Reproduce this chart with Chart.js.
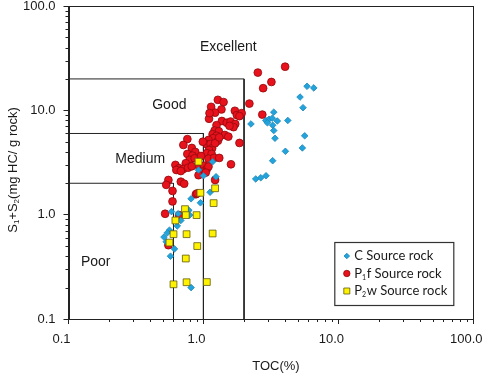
<!DOCTYPE html>
<html>
<head>
<meta charset="utf-8">
<script src="https://cdn.jsdelivr.net/npm/chart.js@4.4.1/dist/chart.umd.min.js"></script>
<style>
  html, body { margin: 0; padding: 0; background: #fff; }
  #wrap { width: 484px; height: 374px; }
</style>
</head>
<body>
<div id="wrap"><canvas id="chart"></canvas></div>
<script>
// tick labels
const xTicks = [0.1, 1, 10, 100];
const yTicks = [0.1, 1, 10, 100];

// boundaries of the source rock classes
const tocLimits = [0.6, 1.0, 2.0];
const s1s2Limits = [2, 6, 20];
const classNames = ["Poor", "Medium", "Good", "Excellent"];

// C source rock
const cToc = [5.86, 6.57, 5.20, 5.47, 3.32, 4.22, 2.25, 2.90, 3.06, 3.24, 3.53, 2.98, 3.26, 3.32,
  3.39, 5.63, 5.41, 4.05, 3.26, 2.44, 2.66, 2.91, 1.17, 0.92, 1.00, 1.24, 0.81, 0.95, 1.12,
  0.58, 0.65, 0.68, 0.64, 0.78, 0.79, 0.56, 0.54, 0.51, 0.53, 0.61, 0.57, 0.81];
const cS1S2 = [17.0, 16.4, 13.4, 10.6, 9.6, 8.0, 7.4, 8.0, 8.2, 8.4, 7.9, 7.6, 7.2, 6.4,
  5.4, 5.7, 4.36, 4.05, 3.29, 2.20, 2.26, 2.36, 3.22, 2.68, 2.36, 2.31, 1.42, 1.30, 1.64,
  1.07, 1.02, 0.88, 0.78, 1.10, 0.99, 0.71, 0.67, 0.61, 0.55, 0.47, 0.40, 0.20];

// P1f source rock
const p1fToc = [4.03, 2.53, 3.19, 2.77, 2.19, 2.73, 1.28, 1.41, 1.14, 1.36, 1.22, 1.71, 1.77, 1.92,
  1.85, 1.10, 1.37, 1.49, 1.59, 1.72, 1.67, 1.56, 1.25, 1.21, 1.30, 1.17, 1.25, 1.18, 1.44,
  1.53, 1.85, 0.76, 0.71, 0.82, 0.87, 1.09, 1.06, 1.13, 1.16, 1.10, 1.28, 1.22, 0.99, 0.76,
  0.83, 0.79, 0.74, 0.86, 1.06, 1.15, 1.09, 1.20, 1.31, 0.96, 0.62, 0.66, 0.71, 0.63, 0.68,
  0.77, 0.82, 0.93, 1.01, 1.06, 0.98, 1.09, 1.60, 0.92, 1.04, 0.55, 0.53, 0.68, 0.72, 1.22,
  0.59, 0.88, 0.90, 0.59, 0.52, 0.66, 0.55, 1.11, 1.31];
const p1fS1S2 = [26.2, 23.0, 18.7, 16.3, 11.6, 9.1, 12.6, 12.0, 10.8, 10.2, 9.5, 9.9, 9.0, 9.4,
  8.8, 8.3, 7.9, 7.6, 7.8, 7.4, 6.9, 7.1, 7.2, 6.4, 6.3, 5.9, 5.7, 5.4, 5.8,
  5.6, 4.87, 5.3, 4.66, 4.36, 3.99, 5.2, 4.73, 4.76, 4.33, 4.17, 5.1, 4.84, 5.0, 3.82,
  3.68, 3.35, 3.11, 3.47, 3.88, 3.82, 3.44, 3.50, 3.50, 3.65, 3.0, 2.79, 2.74, 2.68, 2.62,
  2.82, 2.91, 2.89, 2.95, 2.74, 2.58, 2.89, 3.04, 2.39, 2.53, 2.15, 1.93, 2.07, 1.98, 2.15,
  1.69, 1.57, 1.60, 1.34, 1.02, 0.99, 0.51, 9.4, 5.5];

// P2w source rock
const p2wToc = [0.92, 1.22, 0.95, 1.19, 0.73, 0.74, 0.89, 0.62, 0.60, 0.75, 1.17, 0.56, 0.90,
  0.74, 0.60, 0.75, 1.06];
const p2wS1S2 = [3.22, 1.79, 1.62, 1.29, 1.13, 0.99, 0.99, 0.88, 0.65, 0.65, 0.66, 0.54, 0.50,
  0.38, 0.215, 0.225, 0.226];

const seriesNames = ["C Source rock", "P1f Source rock", "P2w Source rock"];

function zip(xs, ys) {
  return xs.map((x, i) => ({ x: x, y: ys[i] }));
}

// step lines: y = limit from 0.1 to toc limit, then down to 0.1
const boundaryData = tocLimits.map((t, i) => [
  { x: xTicks[0], y: s1s2Limits[i] },
  { x: t, y: s1s2Limits[i] },
  { x: t, y: yTicks[0] }
]);

const TEXT = "#1a1a1a";
const ARIAL = "'Liberation Sans', Arial, sans-serif";

const markerStyles = [
  { pointStyle: "rectRot", radius: 3.3, bg: "#22a3dc", border: "#1b86b8" },
  { pointStyle: "circle", radius: 3.9, bg: "#e8121c", border: "#8e0a0e" },
  { pointStyle: "rect", radius: 4.8, bg: "#fff200", border: "#5e5a10" }
];

const datasets = [];
[[cToc, cS1S2], [p1fToc, p1fS1S2], [p2wToc, p2wS1S2]].forEach((pair, i) => {
  const m = markerStyles[i];
  datasets.push({
    label: seriesNames[i],
    data: zip(pair[0], pair[1]),
    pointStyle: m.pointStyle,
    pointRadius: m.radius,
    pointBackgroundColor: m.bg,
    pointBorderColor: m.border,
    pointBorderWidth: 0.8,
    showLine: false,
    order: [1, 2, 0][i]
  });
});
boundaryData.forEach((d) => {
  datasets.push({
    label: "",
    data: d,
    showLine: true,
    borderColor: "#222",
    borderWidth: 1,
    pointRadius: 0,
    fill: false,
    order: 5
  });
});

// region names anchored in data space
const classPos = [[0.159, 0.354], [0.34, 3.44], [0.559, 11.1], [1.53, 40.3]];

const decorPlugin = {
  id: "decor",
  beforeDatasetsDraw(chart) {
    const { ctx, chartArea: a, scales: { x, y } } = chart;
    ctx.save();
    ctx.strokeStyle = "#222";
    ctx.lineWidth = 1;
    ctx.strokeRect(Math.round(a.left) + 0.5, Math.round(a.top) + 0.5,
      Math.round(a.right - a.left) - 1, Math.round(a.bottom - a.top));
    // minor ticks
    ctx.beginPath();
    for (let d = 0; d < 3; d++) {
      for (let m = 2; m <= 9; m++) {
        const v = xTicks[d] * m;
        const px = Math.round(x.getPixelForValue(v)) + 0.5;
        ctx.moveTo(px, a.bottom);
        ctx.lineTo(px, a.bottom + 3);
        const py = Math.round(y.getPixelForValue(yTicks[d] * m)) + 0.5;
        ctx.moveTo(a.left - 3, py);
        ctx.lineTo(a.left, py);
      }
    }
    ctx.stroke();
    // class labels
    ctx.fillStyle = TEXT;
    ctx.font = "14px " + ARIAL;
    ctx.textAlign = "center";
    ctx.textBaseline = "middle";
    classNames.forEach((n, i) => {
      ctx.fillText(n, x.getPixelForValue(classPos[i][0]), y.getPixelForValue(classPos[i][1]));
    });
    ctx.restore();
  },
  afterDraw(chart) {
    const { ctx, chartArea: a } = chart;
    ctx.save();
    ctx.fillStyle = TEXT;
    // y title with subscripts
    const parts = [["S", 0], ["1", 1], ["+S", 0], ["2", 1], ["(mg HC/ g rock)", 0]];
    const big = "13px " + ARIAL, small = "8px " + ARIAL;
    let w = 0;
    parts.forEach((p) => { ctx.font = p[1] ? small : big; w += ctx.measureText(p[0]).width; });
    ctx.translate(13, 170);
    ctx.rotate(-Math.PI / 2);
    ctx.textBaseline = "middle";
    ctx.textAlign = "left";
    let cx = -w / 2;
    parts.forEach((p) => {
      ctx.font = p[1] ? small : big;
      ctx.fillText(p[0], cx, p[1] ? 4 : 0);
      cx += ctx.measureText(p[0]).width;
    });
    ctx.setTransform(1, 0, 0, 1, 0, 0);
    // x title
    ctx.font = "13px " + ARIAL;
    ctx.textAlign = "center";
    ctx.fillText("TOC(%)", (a.left + a.right) / 2 + 5, 366);

    // legend
    const bx = a.right - 139, by = a.bottom - 77, bw = 119, bh = 63;
    ctx.fillStyle = "#fff";
    ctx.fillRect(bx, by, bw, bh);
    ctx.strokeStyle = "#333";
    ctx.lineWidth = 1.2;
    ctx.strokeRect(bx + 0.5, by + 0.5, bw, bh);
    const labels = [
      [["C Source rock", 0]],
      [["P", 0], ["1", 1], ["f Source rock", 0]],
      [["P", 0], ["2", 1], ["w Source rock", 0]]
    ];
    const lf = "13px Lato, 'Open Sans', sans-serif", ls = "7px Lato, 'Open Sans', sans-serif";
    labels.forEach((parts, i) => {
      const cy = by + 14 + i * 17.5;
      const mx = bx + 12.5;
      const m = markerStyles[i];
      ctx.fillStyle = m.bg;
      ctx.strokeStyle = m.border;
      ctx.lineWidth = 0.8;
      ctx.beginPath();
      if (i === 0) {
        ctx.moveTo(mx - 2.8, cy); ctx.lineTo(mx, cy - 2.8); ctx.lineTo(mx + 2.8, cy); ctx.lineTo(mx, cy + 2.8);
        ctx.closePath();
      } else if (i === 1) {
        ctx.arc(mx, cy, 3.2, 0, Math.PI * 2);
      } else {
        ctx.rect(mx - 3, cy - 3, 6, 6);
      }
      ctx.fill();
      ctx.stroke();
      ctx.fillStyle = TEXT;
      ctx.textAlign = "left";
      ctx.textBaseline = "middle";
      let tx = bx + 20;
      parts.forEach((p) => {
        ctx.font = p[1] ? ls : lf;
        ctx.fillText(p[0], tx, p[1] ? cy + 4 : cy);
        tx += ctx.measureText(p[0]).width + (p[1] ? 0.5 : 0);
      });
    });
    ctx.restore();
  }
};

const axisCommon = {
  type: "logarithmic",
  min: 0.1,
  max: 100,
  grid: { display: true, drawOnChartArea: false, tickLength: 5, color: "#222", tickColor: "#222" },
  border: { display: true, color: "#222", width: 1 }
};

new Chart(document.getElementById("chart"), {
  type: "scatter",
  data: { datasets: datasets },
  options: {
    responsive: true,
    maintainAspectRatio: false,
    animation: false,
    layout: { padding: { top: 6, right: 10.7, left: 0, bottom: 0 } },
    plugins: { legend: { display: false }, tooltip: { enabled: false } },
    scales: {
      x: Object.assign({}, axisCommon, {
        afterBuildTicks(s) { s.ticks = xTicks.map((v) => ({ value: v })); },
        afterFit(s) { s.height = 55; s.paddingLeft = 0; s.paddingRight = 0; },
        ticks: {
          color: TEXT, font: { size: 13, family: ARIAL }, padding: 8, labelOffset: -7,
          maxRotation: 0, autoSkip: false,
          callback: (v) => Number(v).toFixed(1)
        }
      }),
      y: Object.assign({}, axisCommon, {
        afterBuildTicks(s) { s.ticks = yTicks.map((v) => ({ value: v })); },
        afterFit(s) { s.width = 68.5; s.paddingTop = 0; s.paddingBottom = 0; },
        ticks: {
          color: TEXT, font: { size: 13, family: ARIAL }, padding: 8,
          autoSkip: false,
          callback: (v) => Number(v).toFixed(1)
        }
      })
    }
  },
  plugins: [decorPlugin]
});
</script>
</body>
</html>
